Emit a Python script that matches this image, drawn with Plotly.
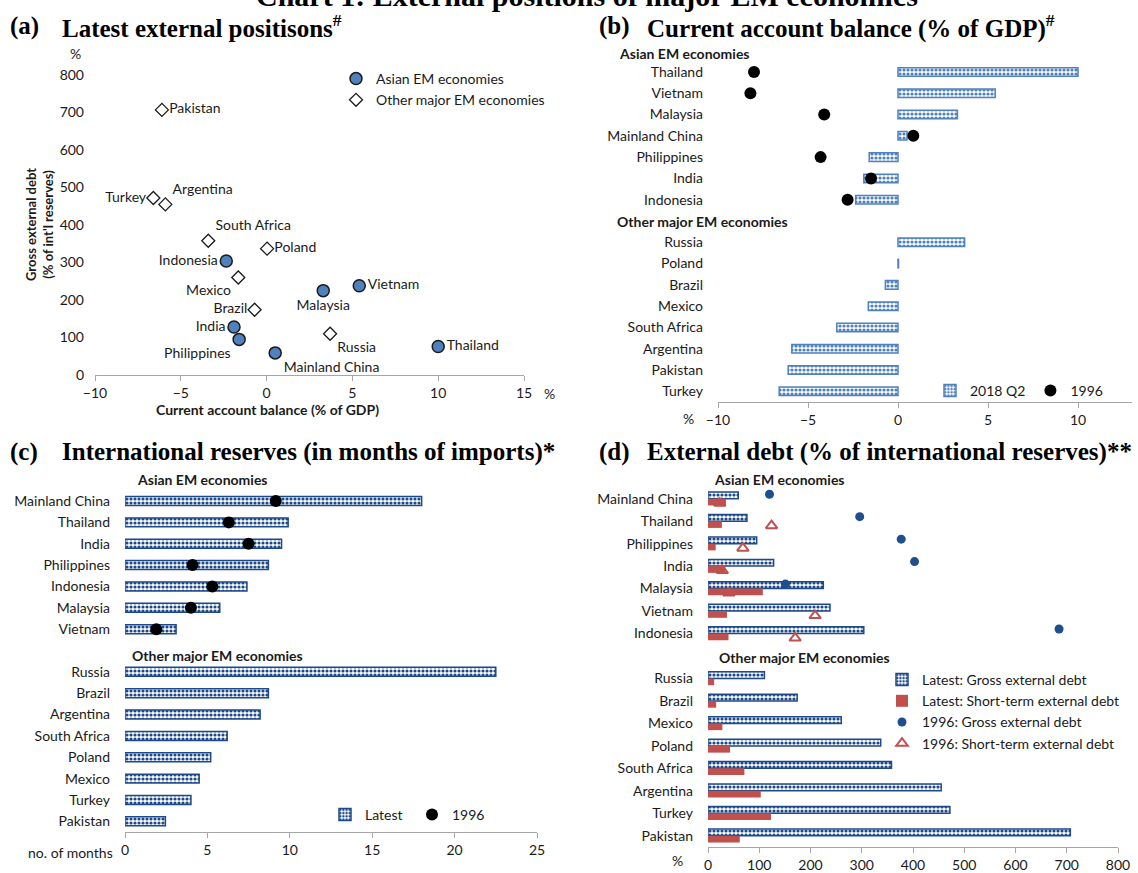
import plotly.graph_objects as go

W, H = 1138, 873

ASIA_HDR = "Asian EM economies"
OTHER_HDR = "Other major EM economies"

# ---------------- data ----------------
# Panel (b): current account balance (% of GDP)
ca_asian = ["Thailand", "Vietnam", "Malaysia", "Mainland China", "Philippines", "India", "Indonesia"]
ca_latest_asian = [10.0, 5.4, 3.3, 0.5, -1.6, -1.9, -2.35]
ca_1996_asian = [-8.0, -8.2, -4.1, 0.85, -4.3, -1.5, -2.8]
ca_other = ["Russia", "Poland", "Brazil", "Mexico", "South Africa", "Argentina", "Pakistan", "Turkey"]
ca_latest_other = [3.7, 0.03, -0.7, -1.65, -3.4, -5.9, -6.1, -6.6]

# Panel (c): international reserves (months of imports)
res_asian = ["Mainland China", "Thailand", "India", "Philippines", "Indonesia", "Malaysia", "Vietnam"]
res_latest_asian = [18.0, 9.9, 9.5, 8.7, 7.4, 5.75, 3.1]
res_1996_asian = [9.15, 6.3, 7.5, 4.1, 5.3, 4.0, 1.9]
res_other = ["Russia", "Brazil", "Argentina", "South Africa", "Poland", "Mexico", "Turkey", "Pakistan"]
res_latest_other = [22.5, 8.7, 8.2, 6.2, 5.2, 4.5, 4.0, 2.45]

# Panel (d): external debt (% of international reserves)
debt_asian = ["Mainland China", "Thailand", "Philippines", "India", "Malaysia", "Vietnam", "Indonesia"]
gross_latest_asian = [59, 76, 95, 128, 225, 238, 304]
short_latest_asian = [35, 27, 15, 34, 107, 37, 40]
gross_1996_asian = [120, 296, 377, 403, 151, None, 685]
short_1996_asian = [23, 124, 68, 28, 41, 209, 170]
debt_other = ["Russia", "Brazil", "Mexico", "Poland", "South Africa", "Argentina", "Turkey", "Pakistan"]
gross_latest_other = [110, 174, 260, 337, 358, 455, 472, 707]
short_latest_other = [12, 16, 28, 43, 71, 103, 123, 62]

# Panel (a) uses latest current account (x) vs latest gross external debt (y)
ca_lookup = dict(zip(ca_asian + ca_other, ca_latest_asian + ca_latest_other))
gross_lookup = dict(zip(debt_asian + debt_other, gross_latest_asian + gross_latest_other))
a_asian = ca_asian
a_other = ca_other

# label placement (style) for panel (a)
label_pos = {
    "Pakistan": "middle right", "Turkey": "middle left", "Argentina": "top right",
    "South Africa": "top right", "Poland": "middle right", "Indonesia": "middle left",
    "Mexico": "bottom left", "Brazil": "middle left", "India": "middle left",
    "Philippines": "bottom left", "Mainland China": "bottom right", "Russia": "bottom right",
    "Malaysia": "bottom center", "Vietnam": "middle right", "Thailand": "middle right",
}

# ---------------- style ----------------
FONT = "Lato"
SERIF = "Liberation Serif"
TXT = "#1a1a1a"
AX = "#a6a6a6"
BLUE_L = "#4F81BD"
NAVY = "#1F4A8A"
DOTBLUE = "#1F4E8C"
RED = "#C0504D"
FS = 14
TS = 25


def px(x):
    return x / W


def py(y):
    return 1 - y / H


def rows_of(asian, other):
    return [ASIA_HDR] + asian + [OTHER_HDR] + other


rows_b = rows_of(ca_asian, ca_other)
rows_c = rows_of(res_asian, res_other)
rows_d = rows_of(debt_asian, debt_other)

fig = go.Figure()

# ---- (a) scatter ----
fig.add_trace(go.Scatter(
    x=[ca_lookup[c] for c in a_asian], y=[gross_lookup[c] for c in a_asian],
    text=a_asian, textposition=[label_pos[c] for c in a_asian],
    mode="markers+text", name="Asian EM economies", legend="legend",
    marker=dict(symbol="circle", size=12, color=BLUE_L, line=dict(color=TXT, width=1.5)),
    textfont=dict(family=FONT, size=FS, color=TXT), cliponaxis=False,
    offsetgroup="a", xaxis="x", yaxis="y"))
fig.add_trace(go.Scatter(
    x=[ca_lookup[c] for c in a_other], y=[gross_lookup[c] for c in a_other],
    text=a_other, textposition=[label_pos[c] for c in a_other],
    mode="markers+text", name="Other major EM economies", legend="legend",
    marker=dict(symbol="diamond", size=10, color="white", line=dict(color=TXT, width=1.3)),
    textfont=dict(family=FONT, size=FS, color=TXT), cliponaxis=False,
    offsetgroup="a", xaxis="x", yaxis="y"))

PAT = dict(shape=".", bgcolor="white", size=4, solidity=0.5)

# ---- (b) bars ----
fig.add_trace(go.Bar(
    y=ca_asian + ca_other, x=ca_latest_asian + ca_latest_other, orientation="h",
    name="2018 Q2", legend="legend2", width=0.4, offsetgroup="b",
    marker=dict(color="white", line=dict(color=BLUE_L, width=1.5),
                pattern=dict(PAT, fgcolor=BLUE_L)),
    xaxis="x2", yaxis="y2"))
fig.add_trace(go.Scatter(
    y=ca_asian, x=ca_1996_asian, mode="markers", name="1996", legend="legend2",
    orientation="h", offsetgroup="b",
    marker=dict(symbol="circle", size=12, color="black"), xaxis="x2", yaxis="y2"))

# ---- (c) bars ----
fig.add_trace(go.Bar(
    y=res_asian + res_other, x=res_latest_asian + res_latest_other, orientation="h",
    name="Latest", legend="legend3", width=0.42, offsetgroup="c",
    marker=dict(color="white", line=dict(color=NAVY, width=1.5),
                pattern=dict(PAT, fgcolor=NAVY)),
    xaxis="x3", yaxis="y3"))
fig.add_trace(go.Scatter(
    y=res_asian, x=res_1996_asian, mode="markers", name="1996", legend="legend3",
    orientation="h", offsetgroup="c",
    marker=dict(symbol="circle", size=12, color="black"), xaxis="x3", yaxis="y3"))

# ---- (d) bars ----
fig.add_trace(go.Bar(
    y=debt_asian + debt_other, x=gross_latest_asian + gross_latest_other, orientation="h",
    name="Latest: Gross external debt", legend="legend4", offsetgroup="g", alignmentgroup="d",
    marker=dict(color="white", line=dict(color=NAVY, width=1.5),
                pattern=dict(PAT, fgcolor=NAVY)),
    xaxis="x4", yaxis="y4"))
fig.add_trace(go.Bar(
    y=debt_asian + debt_other, x=short_latest_asian + short_latest_other, orientation="h",
    name="Latest: Short-term external debt", legend="legend4", offsetgroup="s", alignmentgroup="d",
    marker=dict(color=RED, line=dict(width=0)), xaxis="x4", yaxis="y4"))
fig.add_trace(go.Scatter(
    y=debt_asian, x=gross_1996_asian, mode="markers", name="1996: Gross external debt",
    legend="legend4", orientation="h", offsetgroup="g", alignmentgroup="d",
    marker=dict(symbol="circle", size=9, color=DOTBLUE), xaxis="x4", yaxis="y4"))
fig.add_trace(go.Scatter(
    y=debt_asian, x=short_1996_asian, mode="markers", name="1996: Short-term external debt",
    legend="legend4", orientation="h", offsetgroup="s", alignmentgroup="d",
    marker=dict(symbol="triangle-up-open", size=10, color=RED, line=dict(width=2, color=RED)),
    xaxis="x4", yaxis="y4"))

tickfont = dict(family=FONT, size=FS, color=TXT)


def lin_x(dom, rng, tickvals, anchor):
    return dict(domain=[px(dom[0]), px(dom[1])], range=rng, tickmode="array", tickvals=tickvals,
                anchor=anchor, showline=True, linecolor=AX, linewidth=1, ticks="outside",
                ticklen=5, tickcolor=AX, showgrid=False, zeroline=False, tickfont=tickfont,
                fixedrange=True, automargin=False)


def cat_y(dom, rows, standoff, anchor):
    labels = [r for r in rows if r not in (ASIA_HDR, OTHER_HDR)]
    return dict(domain=[py(dom[1]), py(dom[0])], type="category", categoryorder="array",
                categoryarray=rows, range=[len(rows) - 0.5, -0.5], tickmode="array",
                tickvals=labels, ticktext=labels,
                showline=False, ticks="", showgrid=False, zeroline=False, tickfont=tickfont,
                ticklabelstandoff=standoff, fixedrange=True, anchor=anchor, automargin=False)


def zero_pos(xdom, rng):
    d0, d1 = px(xdom[0]), px(xdom[1])
    return d0 + (0 - rng[0]) / (rng[1] - rng[0]) * (d1 - d0)


def boundary_axis(overlay, xdom, rng, rows):
    n = len(rows)
    return dict(overlaying=overlay, anchor="free", position=zero_pos(xdom, rng),
                range=[n - 0.5, -0.5], tickmode="array",
                tickvals=[i - 0.5 for i in range(n + 1)], ticks="outside", ticklen=5,
                tickcolor=AX, showline=True, linecolor=AX, linewidth=1,
                showticklabels=False, showgrid=False, zeroline=False, fixedrange=True,
                automargin=False)


A_X, A_R = (95, 524), [-10, 15]
B_X, B_R = (718, 1132), [-10, 13]
C_X, C_R = (125, 537), [0, 25]
D_X, D_R = (708, 1118), [0, 800]

layout_axes = dict(
    xaxis=lin_x(A_X, A_R, [-10, -5, 0, 5, 10, 15], "y"),
    yaxis=dict(domain=[py(375), py(75)], range=[0, 800], dtick=100, anchor="x",
               showline=False, ticks="", showgrid=False, zeroline=False, tickfont=tickfont,
               ticklabelstandoff=10, fixedrange=True, automargin=False),
    xaxis5=dict(overlaying="x", anchor="y", range=A_R, tickmode="array",
                tickvals=[-10, -5, 0, 5, 10, 15], ticks="inside", ticklen=5, tickcolor=AX,
                showline=False, showticklabels=False, showgrid=False, zeroline=False,
                automargin=False),
    yaxis5=dict(overlaying="y", anchor="free", position=zero_pos(A_X, A_R), range=[0, 800],
                dtick=100, ticks="outside", ticklen=5, tickcolor=AX, showline=True,
                linecolor=AX, linewidth=1, showticklabels=False, showgrid=False, zeroline=False,
                automargin=False),
    yaxis9=dict(overlaying="y", anchor="free", position=zero_pos(A_X, A_R), range=[0, 800],
                dtick=100, ticks="inside", ticklen=5, tickcolor=AX, showline=False,
                showticklabels=False, showgrid=False, zeroline=False, automargin=False),
    xaxis2=lin_x(B_X, B_R, [-10, -5, 0, 5, 10], "y2"),
    yaxis2=cat_y((40, 402), rows_b, 14, "x2"),
    yaxis6=boundary_axis("y2", B_X, B_R, rows_b),
    xaxis3=lin_x(C_X, C_R, [0, 5, 10, 15, 20, 25], "y3"),
    yaxis3=cat_y((469, 832), rows_c, 14, "x3"),
    yaxis7=boundary_axis("y3", C_X, C_R, rows_c),
    xaxis4=lin_x(D_X, D_R, list(range(0, 801, 100)), "y4"),
    yaxis4=cat_y((465, 847), rows_d, 14, "x4"),
    yaxis8=boundary_axis("y4", D_X, D_R, rows_d),
)

ann = []


def text(t, x, y, size=FS, bold=False, family=FONT, xanchor="left", yanchor="middle", **kw):
    ann.append(dict(text=f"<b>{t}</b>" if bold else t, x=px(x), y=py(y), xref="paper",
                    yref="paper", xanchor=xanchor, yanchor=yanchor, showarrow=False,
                    font=dict(family=family, size=size, color="black" if family == SERIF else TXT),
                    **kw))


# titles
text("Chart 1: External positions of major EM economies", 587, -5, size=30, bold=True,
     family=SERIF, xanchor="center")
text("(a)", 8, 26, size=TS, bold=True, family=SERIF)
text("Latest external positisons<sup>#</sup>", 60, 26, size=TS, bold=True, family=SERIF)
text("(b)", 597, 26, size=TS, bold=True, family=SERIF)
text("Current account balance (% of GDP)<sup>#</sup>", 645, 26, size=TS, bold=True, family=SERIF)
text("(c)", 8, 452, size=TS, bold=True, family=SERIF)
text("International reserves (in months of imports)*", 60, 452, size=TS, bold=True, family=SERIF)
text("(d)", 597, 452, size=TS, bold=True, family=SERIF)
text("External debt (% of international reserves)**", 645, 452, size=TS, bold=True, family=SERIF)

# panel (a) axis texts
text("%", 75, 53, xanchor="center")
text("%", 549, 394, xanchor="center")
text("Current account balance (% of GDP)", 267, 409, bold=True, xanchor="center", size=14)
text("Gross external debt<br>(% of int'l reserves)", 40, 225, bold=True, xanchor="center",
     size=13, textangle=-90)
# other unit texts
text("%", 688, 418, xanchor="center")
text("no. of months", 115, 852, xanchor="right")
text("%", 677, 860, xanchor="center")

# group headers
for yref, rx, hy, ox, oy in [("y2", 617, 3, 615, 1), ("y3", 135, 0, 130, 5), ("y4", 712, 3, 717, 1)]:
    ann.append(dict(text=f"<b>{ASIA_HDR}</b>", x=px(rx), y=ASIA_HDR, xref="paper", yref=yref,
                    xanchor="left", yanchor="middle", showarrow=False, yshift=-hy,
                    font=dict(family=FONT, size=FS, color=TXT)))
    ann.append(dict(text=f"<b>{OTHER_HDR}</b>", x=px(ox), y=OTHER_HDR, xref="paper", yref=yref,
                    xanchor="left", yanchor="middle", showarrow=False, yshift=-oy,
                    font=dict(family=FONT, size=FS, color=TXT)))

legfont = dict(family=FONT, size=FS, color=TXT)
fig.update_layout(
    template="none",
    width=W, height=H, margin=dict(l=0, r=0, t=0, b=0, pad=0),
    paper_bgcolor="white", plot_bgcolor="rgba(0,0,0,0)",
    barmode="group", bargap=0.4, bargroupgap=0, scattermode="group",
    showlegend=True, annotations=ann,
    legend=dict(x=px(336), y=py(63), xanchor="left", yanchor="top", orientation="v",
                font=legfont, bgcolor="rgba(0,0,0,0)", itemwidth=30, tracegroupgap=0),
    legend2=dict(x=px(930), y=py(391), xanchor="left", yanchor="middle", orientation="h",
                 font=legfont, bgcolor="rgba(0,0,0,0)", itemwidth=30),
    legend3=dict(x=px(325), y=py(815), xanchor="left", yanchor="middle", orientation="h",
                 font=legfont, bgcolor="rgba(0,0,0,0)", itemwidth=30, entrywidth=42),
    legend4=dict(x=px(882), y=py(664), xanchor="left", yanchor="top", orientation="v",
                 font=legfont, bgcolor="rgba(0,0,0,0)", itemwidth=30, tracegroupgap=0),
    **layout_axes,
)

fig.write_html("out.html", config={"displayModeBar": False},
               post_script="document.body.style.margin='0';document.body.style.padding='0';"
                           "document.body.style.overflow='hidden';")
